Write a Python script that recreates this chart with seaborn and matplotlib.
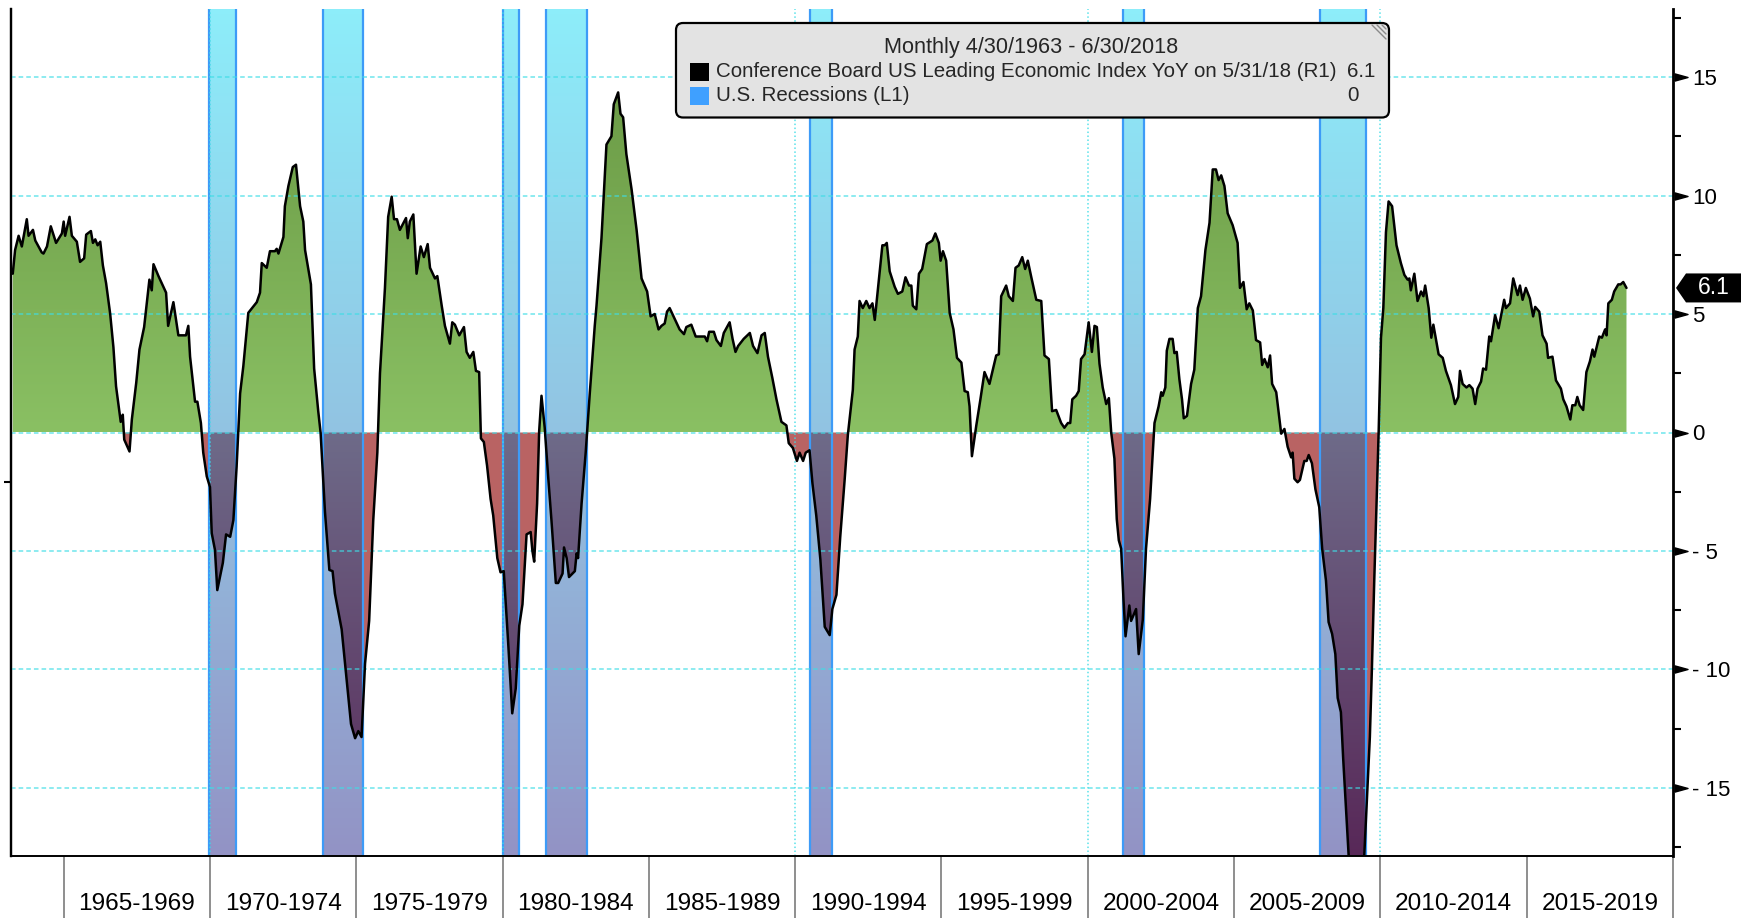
import numpy as np
import pandas as pd
import matplotlib
matplotlib.use("Agg")
import matplotlib.pyplot as plt
import seaborn as sns
from matplotlib.path import Path
from matplotlib.patches import FancyBboxPatch, Rectangle, Polygon
from matplotlib.lines import Line2D
import matplotlib.transforms as mtransforms
from matplotlib.colors import LinearSegmentedColormap

# ---------------- data ----------------
lei_dates = [
    1963.26, 1963.34, 1963.46, 1963.57, 1963.74, 1963.80, 1963.95, 1964.03, 1964.25, 1964.31,
    1964.43, 1964.56, 1964.74, 1964.94, 1965.00, 1965.05, 1965.20, 1965.28, 1965.45, 1965.56,
    1965.70, 1965.77, 1965.93, 1966.00, 1966.08, 1966.16, 1966.25, 1966.34, 1966.45, 1966.59,
    1966.70, 1966.79, 1966.95, 1967.02, 1967.07, 1967.25, 1967.33, 1967.48, 1967.59, 1967.75,
    1967.93, 1968.01, 1968.07, 1968.24, 1968.50, 1968.57, 1968.75, 1968.92, 1969.18, 1969.26,
    1969.32, 1969.49, 1969.57, 1969.69, 1969.77, 1969.89, 1970.00, 1970.06, 1970.17, 1970.25,
    1970.44, 1970.55, 1970.69, 1970.80, 1970.91, 1971.03, 1971.14, 1971.31, 1971.60, 1971.71,
    1971.77, 1971.94, 1972.05, 1972.22, 1972.28, 1972.34, 1972.51, 1972.56, 1972.68, 1972.83,
    1972.94, 1973.08, 1973.19, 1973.25, 1973.45, 1973.56, 1973.70, 1973.78, 1973.93, 1974.08,
    1974.19, 1974.27, 1974.50, 1974.67, 1974.82, 1974.96, 1975.07, 1975.18, 1975.30, 1975.44,
    1975.58, 1975.72, 1975.81, 1975.98, 1976.09, 1976.21, 1976.29, 1976.39, 1976.49, 1976.70,
    1976.76, 1976.83, 1976.95, 1977.06, 1977.20, 1977.31, 1977.44, 1977.52, 1977.69, 1977.77,
    1977.92, 1978.03, 1978.20, 1978.28, 1978.37, 1978.52, 1978.68, 1978.77, 1978.88, 1979.00,
    1979.09, 1979.20, 1979.26, 1979.36, 1979.47, 1979.59, 1979.68, 1979.82, 1979.93, 1980.04,
    1980.19, 1980.33, 1980.45, 1980.57, 1980.68, 1980.82, 1980.96, 1981.02, 1981.08, 1981.18,
    1981.25, 1981.33, 1981.44, 1981.56, 1981.67, 1981.82, 1981.90, 1982.05, 1982.10, 1982.19,
    1982.27, 1982.47, 1982.53, 1982.58, 1982.70, 1982.84, 1982.98, 1983.15, 1983.21, 1983.38,
    1983.55, 1983.72, 1983.80, 1983.95, 1984.03, 1984.12, 1984.23, 1984.41, 1984.58, 1984.75,
    1984.94, 1985.06, 1985.20, 1985.33, 1985.43, 1985.54, 1985.62, 1985.71, 1985.88, 1986.05,
    1986.20, 1986.28, 1986.45, 1986.60, 1986.91, 1986.99, 1987.06, 1987.22, 1987.31, 1987.46,
    1987.56, 1987.76, 1987.86, 1987.96, 1988.05, 1988.24, 1988.45, 1988.56, 1988.71, 1988.85,
    1988.96, 1989.07, 1989.22, 1989.36, 1989.53, 1989.70, 1989.78, 1989.92, 1990.06, 1990.15,
    1990.27, 1990.36, 1990.49, 1990.59, 1990.72, 1990.86, 1991.01, 1991.18, 1991.27, 1991.41,
    1991.54, 1991.69, 1991.80, 1991.97, 1992.03, 1992.14, 1992.20, 1992.31, 1992.43, 1992.54,
    1992.64, 1992.72, 1992.83, 1992.98, 1993.06, 1993.13, 1993.23, 1993.40, 1993.51, 1993.66,
    1993.77, 1993.89, 1993.97, 1994.02, 1994.14, 1994.23, 1994.34, 1994.50, 1994.69, 1994.79,
    1994.91, 1994.97, 1995.05, 1995.16, 1995.28, 1995.41, 1995.53, 1995.68, 1995.79, 1995.90,
    1995.96, 1996.04, 1996.19, 1996.33, 1996.47, 1996.64, 1996.87, 1996.96, 1997.04, 1997.21,
    1997.30, 1997.44, 1997.53, 1997.64, 1997.76, 1997.86, 1997.95, 1998.07, 1998.24, 1998.41,
    1998.52, 1998.67, 1998.78, 1998.92, 1999.09, 1999.20, 1999.32, 1999.40, 1999.47, 1999.60,
    1999.69, 1999.77, 1999.89, 2000.03, 2000.14, 2000.23, 2000.31, 2000.40, 2000.51, 2000.63,
    2000.72, 2000.80, 2000.91, 2000.99, 2001.06, 2001.14, 2001.22, 2001.29, 2001.42, 2001.48,
    2001.65, 2001.74, 2001.88, 2001.99, 2002.13, 2002.28, 2002.42, 2002.51, 2002.56, 2002.65,
    2002.70, 2002.79, 2002.90, 2002.96, 2003.04, 2003.13, 2003.22, 2003.28, 2003.39, 2003.53,
    2003.64, 2003.76, 2003.87, 2004.02, 2004.16, 2004.27, 2004.38, 2004.47, 2004.56, 2004.67,
    2004.78, 2004.95, 2005.12, 2005.20, 2005.32, 2005.43, 2005.52, 2005.64, 2005.75, 2005.89,
    2005.96, 2006.04, 2006.15, 2006.23, 2006.30, 2006.44, 2006.61, 2006.72, 2006.83, 2006.95,
    2007.00, 2007.06, 2007.17, 2007.25, 2007.40, 2007.48, 2007.55, 2007.66, 2007.78, 2007.91,
    2008.01, 2008.14, 2008.23, 2008.35, 2008.46, 2008.54, 2008.65, 2008.73, 2008.82, 2008.94,
    2009.08, 2009.25, 2009.42, 2009.53, 2009.64, 2009.71, 2009.79, 2009.87, 2009.94, 2010.02,
    2010.10, 2010.19, 2010.28, 2010.40, 2010.55, 2010.70, 2010.82, 2010.93, 2010.99, 2011.04,
    2011.16, 2011.27, 2011.39, 2011.47, 2011.53, 2011.65, 2011.74, 2011.81, 2011.99, 2012.13,
    2012.24, 2012.41, 2012.55, 2012.66, 2012.72, 2012.81, 2012.94, 2013.04, 2013.15, 2013.24,
    2013.32, 2013.44, 2013.51, 2013.61, 2013.72, 2013.78, 2013.92, 2014.04, 2014.23, 2014.29,
    2014.43, 2014.54, 2014.69, 2014.77, 2014.86, 2014.97, 2015.11, 2015.22, 2015.29, 2015.43,
    2015.54, 2015.68, 2015.73, 2015.88, 2016.00, 2016.17, 2016.25, 2016.36, 2016.49, 2016.56,
    2016.66, 2016.73, 2016.81, 2016.93, 2017.04, 2017.16, 2017.25, 2017.31, 2017.48, 2017.57,
    2017.68, 2017.73, 2017.79, 2017.91, 2017.99, 2018.13, 2018.21, 2018.30, 2018.41,
]
lei_values = [
    6.7, 7.7, 8.3, 7.85, 9.0, 8.3, 8.55, 8.1, 7.6, 7.55,
    7.85, 8.7, 8.0, 8.4, 8.9, 8.3, 9.1, 8.3, 8.05, 7.2,
    7.35, 8.35, 8.5, 8.0, 8.15, 7.9, 8.05, 7.05, 6.3, 5.0,
    3.6, 1.95, 0.45, 0.75, -0.3, -0.8, 0.55, 2.1, 3.5, 4.45,
    6.45, 6.0, 7.1, 6.6, 5.9, 4.5, 5.5, 4.1, 4.1, 4.5,
    3.2, 1.3, 1.3, 0.4, -0.85, -1.85, -2.3, -4.25, -4.95, -6.65,
    -5.5, -4.3, -4.4, -3.7, -1.45, 1.65, 2.8, 5.05, 5.5, 5.9,
    7.15, 6.95, 7.65, 7.65, 7.75, 7.55, 8.25, 9.55, 10.4, 11.2,
    11.3, 9.55, 8.9, 7.7, 6.25, 2.7, 0.9, 0.0, -3.35, -5.8,
    -5.85, -6.8, -8.3, -10.45, -12.3, -12.9, -12.6, -12.85, -9.75, -7.95,
    -3.7, -0.85, 2.5, 6.1, 9.1, 9.95, 9.0, 9.0, 8.55, 9.05,
    8.2, 8.9, 9.2, 6.7, 7.85, 7.4, 7.95, 6.95, 6.5, 6.6,
    5.35, 4.5, 3.75, 4.65, 4.55, 4.1, 4.45, 3.4, 3.15, 3.4,
    2.6, 2.55, -0.25, -0.4, -1.4, -2.8, -3.5, -5.3, -5.9, -5.85,
    -8.85, -11.85, -10.8, -8.15, -7.25, -4.3, -4.2, -5.0, -5.45, -3.0,
    0.05, 1.55, 0.2, -1.9, -3.7, -6.35, -6.35, -5.95, -4.85, -5.3,
    -6.1, -5.85, -5.1, -5.3, -3.0, -0.85, 1.65, 4.5, 5.35, 8.2,
    12.15, 12.5, 13.85, 14.35, 13.45, 13.3, 11.75, 10.25, 8.55, 6.5,
    5.95, 4.9, 5.0, 4.35, 4.5, 4.6, 5.1, 5.25, 4.8, 4.35,
    4.15, 4.45, 4.55, 4.05, 4.05, 3.85, 4.25, 4.25, 3.9, 3.65,
    4.2, 4.65, 3.95, 3.4, 3.65, 3.95, 4.2, 3.65, 3.35, 4.1,
    4.2, 3.2, 2.3, 1.4, 0.45, 0.3, -0.45, -0.65, -1.2, -0.85,
    -1.2, -0.85, -0.75, -2.15, -3.5, -5.35, -8.2, -8.55, -7.45, -6.85,
    -4.4, -2.0, -0.1, 1.8, 3.5, 4.05, 5.55, 5.25, 5.55, 5.25,
    5.45, 4.75, 6.1, 7.9, 7.9, 8.0, 6.8, 6.15, 5.85, 5.95,
    6.55, 6.2, 6.2, 5.35, 5.2, 6.7, 6.9, 7.95, 8.1, 8.4,
    8.0, 7.25, 7.65, 7.25, 5.05, 4.35, 3.15, 2.95, 1.75, 1.7,
    1.1, -1.0, 0.3, 1.4, 2.55, 2.05, 3.25, 3.3, 5.75, 6.2,
    5.75, 5.55, 6.95, 7.05, 7.4, 6.9, 7.25, 6.55, 5.6, 5.55,
    3.25, 3.1, 0.9, 0.95, 0.4, 0.2, 0.4, 0.4, 1.4, 1.55,
    1.75, 3.1, 3.3, 4.65, 3.4, 4.5, 4.45, 2.9, 1.9, 1.2,
    1.45, 0.0, -1.1, -3.65, -4.55, -4.9, -7.05, -8.6, -7.3, -7.95,
    -7.45, -9.35, -7.9, -4.9, -2.8, 0.4, 1.1, 1.7, 1.55, 1.9,
    3.45, 3.95, 3.95, 3.35, 3.4, 2.25, 1.4, 0.6, 0.7, 2.05,
    2.65, 5.25, 5.75, 7.7, 8.85, 11.1, 11.1, 10.65, 10.85, 10.4,
    9.25, 8.75, 8.0, 6.1, 6.35, 5.2, 5.45, 5.15, 3.9, 3.8,
    2.85, 3.1, 2.75, 3.25, 2.05, 1.7, -0.05, 0.15, -0.6, -1.05,
    -0.85, -1.95, -2.1, -2.0, -1.2, -1.2, -0.95, -1.3, -2.4, -3.15,
    -4.9, -6.25, -8.0, -8.5, -9.35, -11.2, -11.8, -13.8, -15.75, -18.4,
    -19.6, -19.8, -18.6, -15.75, -12.85, -9.95, -6.25, -2.95, 0.0, 4.0,
    5.25, 8.45, 9.75, 9.55, 7.9, 7.15, 6.65, 6.45, 6.5, 6.0,
    6.7, 5.55, 5.95, 5.75, 6.2, 5.25, 4.0, 4.55, 3.3, 3.15,
    2.6, 2.0, 1.2, 1.5, 2.6, 2.05, 1.9, 2.0, 1.85, 1.2,
    1.85, 2.15, 2.7, 2.65, 4.05, 3.85, 4.95, 4.4, 5.6, 5.25,
    5.45, 6.5, 5.8, 6.2, 5.6, 6.1, 5.65, 4.9, 5.3, 5.1,
    4.1, 3.75, 3.15, 3.2, 2.2, 1.85, 1.4, 1.1, 0.55, 1.15,
    1.15, 1.5, 1.15, 0.95, 2.55, 3.0, 3.5, 3.2, 4.05, 4.0,
    4.35, 4.1, 5.45, 5.6, 5.95, 6.25, 6.25, 6.35, 6.1,
]
rec_start = [1969.97, 1973.86, 1980.00, 1981.50, 1990.50, 2001.20, 2007.95]
rec_end = [1970.90, 1975.23, 1980.55, 1982.90, 1991.25, 2001.93, 2009.50]
period_edges = [1965, 1970, 1975, 1980, 1985, 1990, 1995, 2000, 2005, 2010, 2015, 2020]
period_labels = ["1965-1969", "1970-1974", "1975-1979", "1980-1984", "1985-1989", "1990-1994",
                 "1995-1999", "2000-2004", "2005-2009", "2010-2014", "2015-2019"]
grid_years = [1970, 1980, 1990, 2000, 2010]
yticks = [-15, -10, -5, 0, 5, 10, 15]
yminor = [-17.5, -12.5, -7.5, -2.5, 2.5, 7.5, 12.5, 17.5]
legend_title = "Monthly 4/30/1963 - 6/30/2018"
legend_labels = ["Conference Board US Leading Economic Index YoY on 5/31/18 (R1)", "U.S. Recessions (L1)"]
legend_values = ["6.1", "0"]
legend_colors = ["#000000", "#3FA0FF"]

# ---------------- style ----------------
sns.set_style("white")
plt.rcParams['font.family'] = ['Liberation Sans', 'DejaVu Sans']

W, H = 1747, 918
fig = plt.figure(figsize=(W / 100, H / 100), dpi=100)
fig.patch.set_facecolor('white')
ax = fig.add_axes([11 / W, 1 - 856 / H, (1673 - 11) / W, (856 - 9) / H])
XMIN, XMAX = 1963.2, 2020.0
YMIN, YMAX = -17.87, 17.87

x = np.array(lei_dates)
y = np.array(lei_values)
df = pd.DataFrame({"date": x, "lei": y})

grad = np.linspace(0, 1, 256).reshape(-1, 1)


def compound(coll):
    return Path.make_compound_path(*coll.get_paths())


# positive (green gradient) area
pos = ax.fill_between(x, y, 0, where=y >= 0, interpolate=True, facecolor='none', edgecolor='none')
green = LinearSegmentedColormap.from_list('g', ['#8AC063', '#6A9945'])
im = ax.imshow(grad, cmap=green, origin='lower', extent=[XMIN, XMAX, 0, 15.5],
               aspect='auto', zorder=1, interpolation='bilinear')
im.set_clip_path(compound(pos), ax.transData)

# negative (red) area
neg = ax.fill_between(x, y, 0, where=y <= 0, interpolate=True, facecolor='#B96363',
                      edgecolor='none', zorder=1)
neg_path = compound(neg)

# recession bars
rec_cmap = LinearSegmentedColormap.from_list('r', ['#9393C5', '#92C3E2', '#8DEDFA'])
dark = LinearSegmentedColormap.from_list('d', ['#582858', '#6E6B89'])
for s, e in zip(rec_start, rec_end):
    ax.imshow(grad, cmap=rec_cmap, origin='lower', extent=[s, e, YMIN, YMAX],
              aspect='auto', zorder=2, interpolation='bilinear')
    im2 = ax.imshow(grad, cmap=dark, origin='lower', extent=[s, e, YMIN, 0],
                    aspect='auto', zorder=3, interpolation='bilinear')
    im2.set_clip_path(neg_path, ax.transData)
    for edge in (s, e):
        ax.axvline(edge, color='#3D9BF7', lw=1.6, zorder=3.5)

# grid
for v in yticks:
    ax.axhline(v, color='#3EDDE6', lw=1.1, ls=(0, (3, 2)), alpha=0.75, zorder=4)
for d in grid_years:
    ax.axvline(d, color='#3EDDE6', lw=1.1, ls=(0, (1, 1.6)), alpha=0.85, zorder=4)

# line
sns.lineplot(data=df, x="date", y="lei", color='black', lw=1.8, ax=ax, zorder=5,
             estimator=None, sort=False, legend=False)

# axes
ax.set_xlim(XMIN, XMAX)
ax.set_ylim(YMIN, YMAX)
ax.set_xlabel("")
ax.set_ylabel("")
ax.yaxis.tick_right()
ax.set_yticks(yticks)
ax.set_yticklabels([f"- {abs(v)}" if v < 0 else f"{v}" for v in yticks])
ax.set_yticks(yminor, minor=True)
ax.tick_params(axis='y', which='major', length=0, pad=14, labelsize=16, labelcolor='black',
               right=True, left=False)
ax.tick_params(axis='y', which='minor', length=6, width=1.5, color='black', right=True, left=False)

mids = [(a + b) / 2 for a, b in zip(period_edges[:-1], period_edges[1:])]
ax.set_xticks(period_edges)
ax.set_xticklabels([])
ax.set_xticks(mids, minor=True)
ax.set_xticklabels(period_labels, minor=True)
ax.tick_params(axis='x', which='major', length=45, width=1.1, color='#707070', direction='out',
               bottom=True)
ax.tick_params(axis='x', which='minor', length=0, pad=27, labelsize=17.6, labelcolor='black')

ax.spines['top'].set_visible(False)
ax.spines['left'].set_color('black')
ax.spines['left'].set_linewidth(1.6)
ax.spines['right'].set_color('black')
ax.spines['right'].set_linewidth(2.0)
ax.spines['bottom'].set_color('black')
ax.spines['bottom'].set_linewidth(1.4)
for sp in ax.spines.values():
    sp.set_zorder(6)

# left (L1) axis tick
sec = ax.secondary_yaxis('left')
sec.set_yticks([-2.07])
sec.set_yticklabels([])
sec.tick_params(length=5, width=1.5, color='black')
sec.spines['left'].set_color('black')
sec.spines['left'].set_linewidth(1.6)

# right-axis triangle ticks
tri = [(-1, -0.55), (1, 0), (-1, 0.55), (-1, -0.55)]
trans_tri = mtransforms.offset_copy(ax.get_yaxis_transform(), fig=fig, x=7.5, y=0, units='dots')
for v in yticks:
    ax.plot([1.0], [v], marker=tri, ms=9.4, color='black', ls='none',
            transform=trans_tri, clip_on=False, zorder=7)

ax.set_xlim(XMIN, XMAX)
ax.set_ylim(YMIN, YMAX)

# last value box
anchor = mtransforms.ScaledTranslation(1.0, y[-1], ax.get_yaxis_transform())
btrans = fig.dpi_scale_trans + anchor
box = Polygon([(0.03, 0), (0.13, 0.145), (0.68, 0.145), (0.68, -0.145), (0.13, -0.145)],
              closed=True, transform=btrans, facecolor='black', edgecolor='none', zorder=8)
fig.add_artist(box)
fig.text(0.405, 0.0, f"{y[-1]:.1f}", transform=btrans, color='white', ha='center', va='center',
         fontsize=16.5, zorder=9)

# legend (figure pixel coordinates from top-left)
trans_px = mtransforms.Affine2D().scale(1, -1).translate(0, H).scale(1 / 100) + fig.dpi_scale_trans
lbox = FancyBboxPatch((676, 23), 713, 94.5, boxstyle="round,pad=0,rounding_size=7",
                      transform=trans_px, facecolor='#E3E3E3', edgecolor='black', lw=1.6, zorder=10)
fig.add_artist(lbox)
fig.text(1031, 48, legend_title, transform=trans_px, ha='center', va='center', fontsize=15.6, zorder=11)
row_y = [71.5, 95.5]
for ry, lab, val, col in zip(row_y, legend_labels, legend_values, legend_colors):
    fig.add_artist(Rectangle((690, ry - 9), 19, 18, transform=trans_px, facecolor=col,
                             edgecolor='none', zorder=11))
    fig.text(716.5, ry, lab, transform=trans_px, ha='left', va='center', fontsize=14.8, zorder=11)
    fig.text(1347, ry, val, transform=trans_px, ha='left', va='center', fontsize=14.8, zorder=11)
for k in range(3):
    fig.add_artist(Line2D([1372 + 5 * k, 1386], [25, 39 - 5 * k], transform=trans_px,
                          color='#8A8A8A', lw=1.0, zorder=11))

fig.savefig("out.png", dpi=100, facecolor='white')
